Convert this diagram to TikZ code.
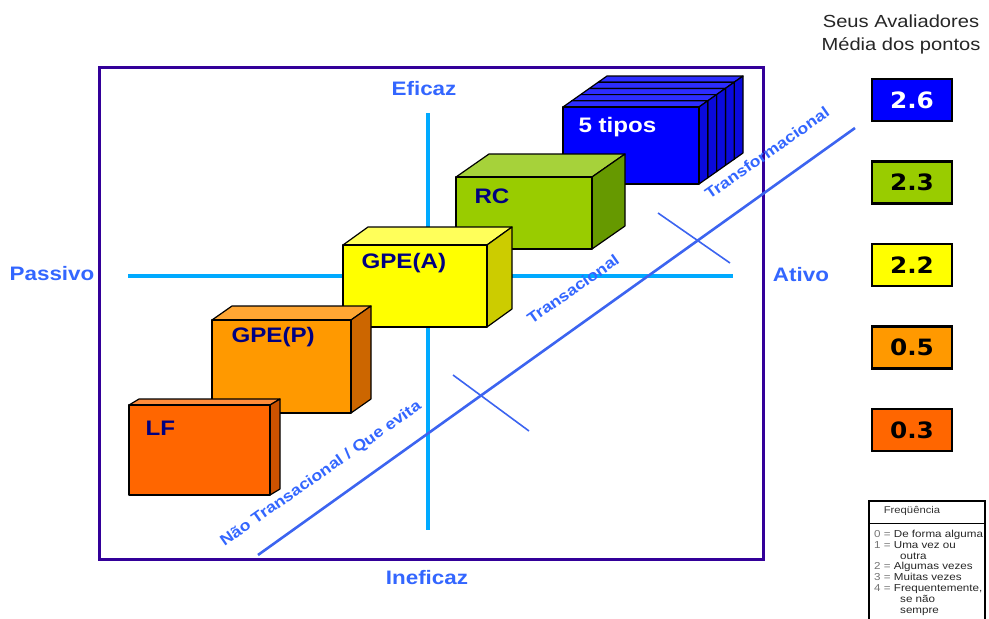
\documentclass[tikz,border=0pt]{standalone}
\usepackage{fontspec}
\setmainfont{Liberation Sans}[FakeStretch=1.15]
\newfontfamily\valuefont{DejaVu Sans}[FakeStretch=1.1]
\usepackage{tikz}
\usetikzlibrary{positioning}

\definecolor{framepurple}{RGB}{51,0,153}
\definecolor{axisblue}{RGB}{0,170,255}
\definecolor{linkblue}{RGB}{60,100,240}
\definecolor{labelblue}{RGB}{51,102,255}
\definecolor{boxnavy}{RGB}{0,0,128}
% front / top / side of each block
\definecolor{lfF}{RGB}{255,102,0}   \definecolor{lfT}{RGB}{255,140,58}  \definecolor{lfS}{RGB}{204,82,0}
\definecolor{gpF}{RGB}{255,153,0}   \definecolor{gpT}{RGB}{255,166,51}  \definecolor{gpS}{RGB}{204,102,0}
\definecolor{gaF}{RGB}{255,255,0}   \definecolor{gaT}{RGB}{255,255,90}  \definecolor{gaS}{RGB}{204,204,0}
\definecolor{rcF}{RGB}{153,204,0}   \definecolor{rcT}{RGB}{166,210,58}  \definecolor{rcS}{RGB}{102,153,0}
\definecolor{tpF}{RGB}{0,0,255}     \definecolor{tpT}{RGB}{45,45,255}   \definecolor{tpS}{RGB}{10,10,220}

% 3d block: x, y (top left of front), width, height, depth x, depth y, front, top, side
\newcommand{\block}[9]{%
  \filldraw[blockline,fill=#8] (#1,#2) -- ++(#5,#6) -- ++(#3,0) -- (#1+#3,#2) -- cycle;
  \filldraw[blockline,fill=#9] (#1+#3,#2) -- ++(#5,#6) -- ++(0,#4) -- (#1+#3,#2+#4) -- cycle;
  \filldraw[blockline,fill=#7] (#1,#2) rectangle ++(#3,#4);
}

\begin{document}
\begin{tikzpicture}[x=1pt,y=-1pt,
  blockline/.style={draw=black,line width=1.2pt,line join=round},
  axisline/.style={axisblue,line width=4pt},
  guide/.style={linkblue,line width=2.6pt},
  tick/.style={linkblue,line width=1.6pt},
  axislabel/.style={labelblue,font=\bfseries\fontsize{19.5}{22}\selectfont},
  diaglabel/.style={labelblue,font=\bfseries\fontsize{15.4}{18}\selectfont,rotate=35},
  blocklabel/.style={anchor=west,text=boxnavy,font=\bfseries\fontsize{21}{24}\selectfont},
  scorebox/.style={draw=black,line width=2.5pt,minimum width=80pt,minimum height=42pt,
    font=\valuefont\bfseries\fontsize{22.5}{25}\selectfont}]
\useasboundingbox (0,0) rectangle (989,619);

% frame
\draw[framepurple,line width=3pt] (99,67) rectangle (763,559);

% axes
\coordinate (top) at (428,113);
\coordinate (bottom) at (428,530);
\coordinate (left) at (128,276);
\coordinate (right) at (733,276);
\draw[axisline] (left) -- (right);
\draw[axisline] (top) -- (bottom);

\node[axislabel] (eficaz) at (424,89) {Eficaz};
\node[axislabel] (ineficaz) at (427,578) {Ineficaz};
\node[axislabel] (passivo) at (52,274) {Passivo};
\node[axislabel] (ativo) at (801,275) {Ativo};

% diagonal and the two cross marks
\coordinate (d0) at (258,555);
\coordinate (d1) at (855,128);
\draw[guide] (d0) -- (d1);
\coordinate (c1a) at (453,375);
\coordinate (c1b) at (529,431);
\coordinate (c2a) at (658,213);
\coordinate (c2b) at (730,263);
\draw[tick] (c1a) -- (c1b);
\draw[tick] (c2a) -- (c2b);

% blocks, back to front
\foreach \k in {4,3,2,1,0}{
  \block{563+8.8*\k}{107-6.2*\k}{136}{77}{8.8}{-6.2}{tpF}{tpT}{tpS}
}
\block{456}{177}{136}{72}{33}{-23}{rcF}{rcT}{rcS}
\block{343}{245}{144}{82}{25}{-18}{gaF}{gaT}{gaS}
\block{212}{320}{139}{93}{20}{-14}{gpF}{gpT}{gpS}
\block{129}{405}{141}{90}{10}{-6}{lfF}{lfT}{lfS}

\node[blocklabel,text=white] (tipos) at (575,127) {5 tipos};
\node[blocklabel] (rc) at (471,196) {RC};
\node[blocklabel] (gpea) at (358,263) {GPE(A)};
\node[blocklabel] (gpep) at (228,337) {GPE(P)};
\node[blocklabel] (lf) at (142,428) {LF};

\node[diaglabel] (nao) at (321,474) {Não Transacional / Que evita};
\node[diaglabel] (trans) at (573,289) {Transacional};
\node[diaglabel] (transf) at (767,153) {Transformacional};

% scores
\node[align=center,text=black!85,font=\fontsize{17.5}{23}\selectfont] (head) at (901,34)
  {Seus Avaliadores\\Média dos pontos};
\node[scorebox,fill=tpF,text=white] (s26) at (912,100) {2.6};
\node[scorebox,fill=rcF,below=38pt of s26] (s23) {2.3};
\node[scorebox,fill=gaF,below=38pt of s23] (s22) {2.2};
\node[scorebox,fill=gpF,below=38pt of s22] (s05) {0.5};
\node[scorebox,fill=lfF,below=38pt of s05] (s03) {0.3};

% frequency key
\draw[black,line width=1.4pt] (869,501) rectangle (985,625);
\draw[black,line width=1pt] (869,523) -- (985,523);
\node[font=\fontsize{9.8}{11}\selectfont,text=black!80] (freq) at (912,511) {Freqüência};
\node[anchor=north west,align=left,inner sep=0pt,text=black!85,
  font=\fontsize{10.1}{10.8}\selectfont] (key) at (874,530)
  {\textcolor{black!55}{0 =} De forma alguma\\
   \textcolor{black!55}{1 =} Uma vez ou\\
   \hspace{26pt}outra\\
   \textcolor{black!55}{2 =} Algumas vezes\\
   \textcolor{black!55}{3 =} Muitas vezes\\
   \textcolor{black!55}{4 =} Frequentemente,\\
   \hspace{26pt}se não\\
   \hspace{26pt}sempre};
\end{tikzpicture}
\end{document}
